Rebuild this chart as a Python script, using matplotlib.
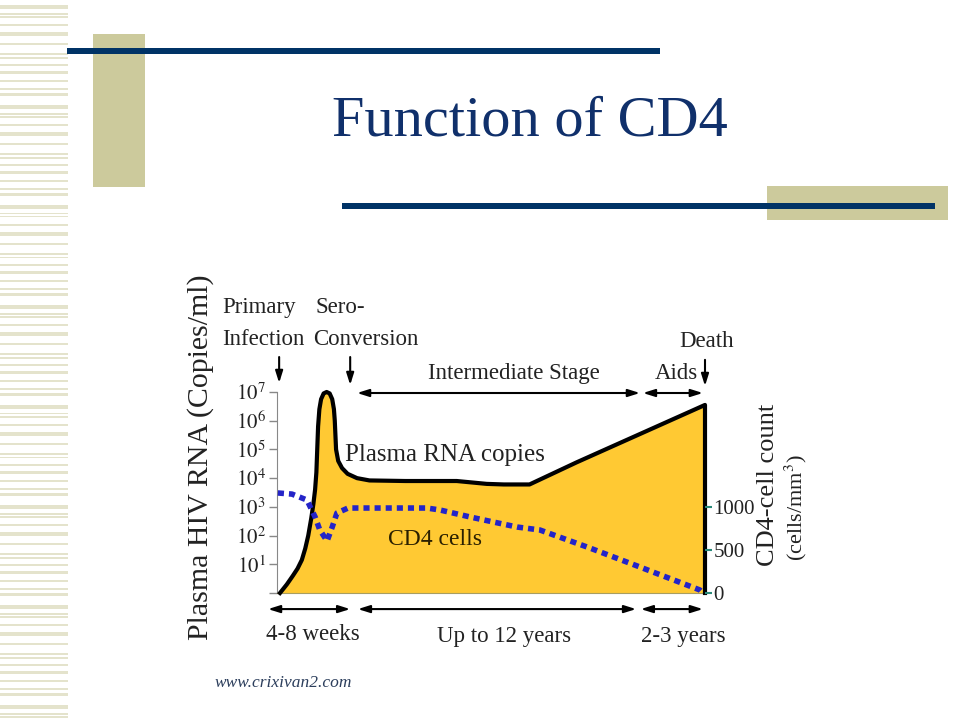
import numpy as np
import matplotlib.pyplot as plt
from matplotlib.patches import Rectangle
from matplotlib.ticker import FixedLocator, FixedFormatter, NullLocator

plt.rcParams['font.family'] = ['Liberation Serif', 'DejaVu Serif']
plt.rcParams['mathtext.fontset'] = 'stix'

# time axis in arbitrary units (0 = infection, 100 = death)
t_rna = [0.7, 2.3, 3.7, 4.8, 5.8, 6.6, 7.3, 8.0, 8.5, 8.9, 9.2, 9.4, 9.6, 9.9,
         10.3, 10.9, 11.6, 12.3, 12.9, 13.3, 13.5, 13.8, 14.3, 15.2, 16.5, 18.7,
         21.6, 30.0, 42.0, 49.0, 53.0, 59.0, 70.0, 85.0, 100.0, 100.0]
# plasma RNA, log10 copies/ml
rna_log = [0.0, 0.3, 0.6, 0.85, 1.15, 1.55, 2.0, 2.6, 3.1, 3.6, 4.2, 5.0, 5.8, 6.4,
           6.75, 6.95, 7.0, 6.95, 6.75, 6.4, 6.0, 5.0, 4.6, 4.35, 4.15, 4.0,
           3.92, 3.9, 3.9, 3.8, 3.78, 3.78, 4.55, 5.55, 6.55, 0.0]

# CD4 cells/mm3
t_cd4 = [0.2, 3.5, 7.0, 8.9, 10.0, 11.7, 12.9, 14.0, 16.6, 21.7, 35.0, 38.1,
         45.1, 50.5, 56.1, 61.4, 73.1, 84.8, 98.8, 99.5]
cd4 = [1163, 1150, 1081, 884, 733, 605, 767, 930, 988, 988, 988, 965,
       884, 826, 767, 733, 523, 302, 35, 0]

left_exps = [0, 1, 2, 3, 4, 5, 6, 7]
left_labels = [''] + ['$10^{%d}$' % e for e in left_exps[1:]]
right_ticks = [0, 500, 1000]

W, H = 960, 720
navy = '#003366'
tan = '#CCCA9C'
stripe = '#E4E3CC'

fig = plt.figure(figsize=(9.6, 7.2), dpi=100)


def px_rect(x0, y0, x1, y1, color, z=1):
    r = Rectangle((x0 / W, 1 - y1 / H), (x1 - x0) / W, (y1 - y0) / H,
                  transform=fig.transFigure, color=color, lw=0, zorder=z)
    fig.add_artist(r)


# striped border on the left
pattern = [(5, 4), (13, 1.5), (16, 1.5), (24, 1.5), (32, 4), (43, 1.5), (53, 1.5),
           (57, 1.5), (64, 1.5), (71, 3), (80, 1.5), (88, 1.5), (93, 3)]
for base in range(0, H, 100):
    for off, h in pattern:
        px_rect(0, base + off, 68, base + off + h, stripe)

# slide decorations
px_rect(93, 34, 145, 187, tan)
px_rect(67, 48, 660, 54, navy, 2)
px_rect(767, 186, 948, 220, tan)
px_rect(342, 203, 935, 209, navy, 2)

fig.text(530 / W, 1 - 122 / H, 'Function of CD4', fontsize=42, color='#10306b',
         ha='center', va='center')
fig.text(215 / W, 1 - 683 / H, 'www.crixivan2.com', fontsize=12.5, style='italic',
         color='#2c3e5c', ha='left', va='center')

# chart
ax = fig.add_axes([277 / W, 1 - 593 / H, 428 / W, 201 / H])
rna = 10.0 ** np.array(rna_log)
ax.fill_between(t_rna, rna, 1, color='#FFC933', lw=0, zorder=1)
ax.plot(t_rna, rna, color='k', lw=3, solid_joinstyle='round', clip_on=False, zorder=3)
ax.set_yscale('log')
ax.set_ylim(1, 1e7)
ax.set_xlim(0, 100)
ax.set_xticks([])
ax.yaxis.set_major_locator(FixedLocator(10.0 ** np.array(left_exps)))
ax.yaxis.set_major_formatter(FixedFormatter(left_labels))
ax.yaxis.set_minor_locator(NullLocator())
ax.tick_params(axis='y', colors='#888888', labelcolor='#222222', labelsize=15,
               length=6, width=1, pad=2)
for s in ['top', 'right']:
    ax.spines[s].set_visible(False)
ax.spines['left'].set_color('#888888')
ax.spines['bottom'].set_color('#a89e60')
ax.patch.set_alpha(0)

ax2 = ax.twinx()
ax2.plot(t_cd4, cd4, color='#2424c8', lw=4, dashes=(1.1, 0.9), clip_on=False, zorder=4)
ax2.set_ylim(0, 2337)
ax2.set_yticks(right_ticks)
ax2.set_yticklabels([str(v) for v in right_ticks])
ax2.tick_params(axis='y', colors='#2a8a7a', labelcolor='#222222', labelsize=15,
                length=5, width=1.5, pad=1)
for s in ax2.spines.values():
    s.set_visible(False)

tr = ax.get_xaxis_transform()
txt = dict(transform=tr, fontsize=16.5, color='#222222', clip_on=False)
ax.text(-12.85, 1.418, 'Primary', ha='left', va='center', **txt)
ax.text(-12.85, 1.259, 'Infection', ha='left', va='center', **txt)
ax.text(8.9, 1.418, 'Sero-', ha='left', va='center', **txt)
ax.text(8.4, 1.259, 'Conversion', ha='left', va='center', **txt)
ax.text(35.3, 1.09, 'Intermediate Stage', ha='left', va='center', **txt)
ax.text(93.9, 1.249, 'Death', ha='left', va='center', **txt)
ax.text(88.3, 1.09, 'Aids', ha='left', va='center', **txt)
ax.text(15.9, 0.687, 'Plasma RNA copies', ha='left', va='center', fontsize=18,
        color='#222222', transform=tr)
ax.text(25.9, 0.264, 'CD4 cells', ha='left', va='center', fontsize=17,
        color='#2b2000', transform=tr)
ax.text(8.4, -0.204, '4-8 weeks', ha='center', va='center', **txt)
ax.text(53.0, -0.214, 'Up to 12 years', ha='center', va='center', **txt)
ax.text(94.9, -0.214, '2-3 years', ha='center', va='center', **txt)


def arrow(x0, y0, x1, y1, style):
    ax.annotate('', xy=(x1, y1), xytext=(x0, y0), xycoords=tr, textcoords=tr,
                annotation_clip=False,
                arrowprops=dict(arrowstyle=style, color='k', lw=1.5,
                                shrinkA=0, shrinkB=0))


both = '<|-|>,head_length=0.7,head_width=0.22'
down = '-|>,head_length=0.7,head_width=0.22'
arrow(18.7, 0.995, 84.8, 0.995, both)
arrow(85.5, 0.995, 99.5, 0.995, both)
arrow(-2.1, -0.08, 17.1, -0.08, both)
arrow(18.9, -0.08, 83.9, -0.08, both)
arrow(85.0, -0.08, 99.5, -0.08, both)
arrow(0.5, 1.174, 0.5, 1.045, down)
arrow(17.1, 1.174, 17.1, 1.035, down)
arrow(100.0, 1.16, 100.0, 1.03, down)

fig.text(201 / W, 1 - 457 / H, 'Plasma HIV RNA (Copies/ml)', rotation=90,
         fontsize=21.5, color='#222222', ha='center', va='center')
fig.text(768 / W, 1 - 485 / H, 'CD4-cell count', rotation=90,
         fontsize=19, color='#222222', ha='center', va='center')
fig.text(796 / W, 1 - 508 / H, '(cells/mm$^3$)', rotation=90,
         fontsize=16, color='#222222', ha='center', va='center')

fig.savefig('out.png', dpi=100)
